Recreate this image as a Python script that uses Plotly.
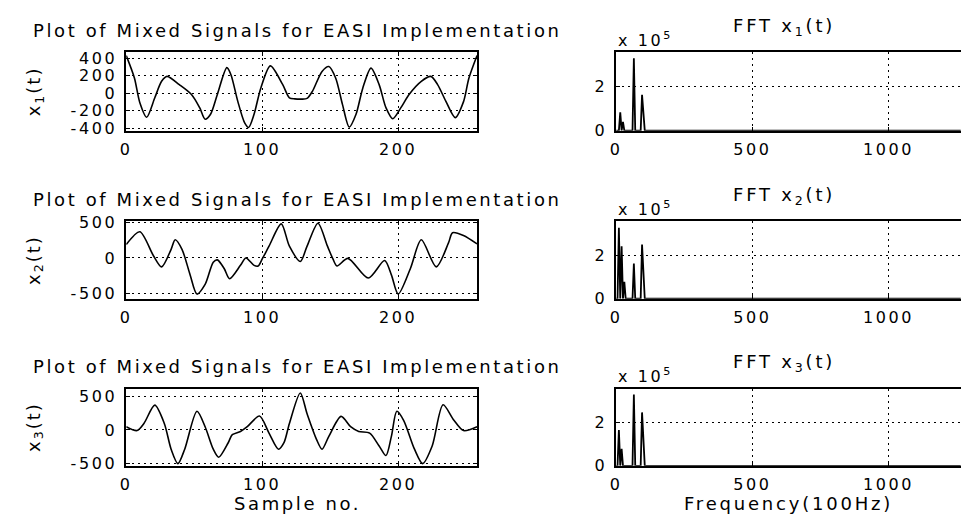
import numpy as np
import plotly.graph_objects as go

W, H = 961, 527

# ---- time-domain mixed signals (sample no., amplitude)
x1_n = [0, 6, 10, 15, 21, 26, 30, 39, 48, 54, 58, 62, 67, 74, 77, 82, 87, 90, 94, 99, 106, 115,
        120, 124, 129, 133, 137, 144, 149, 154, 159, 164, 169, 174, 180, 186, 191, 196, 202, 208,
        217, 224, 229, 235, 242, 248, 252, 258]
x1_v = [430, 174, -109, -275, -53, 136, 192, 98, -15, -166, -298, -241, -15, 292, 211, -91, -336,
        -392, -241, 60, 312, 100, -53, -65, -68, -60, 23, 249, 305, 174, -128, -388, -241, 60, 287,
        98, -166, -292, -166, -15, 136, 192, 98, -90, -280, -100, 170, 430]

x2_n = [0, 10, 20, 26, 33, 36, 41, 47, 52, 58, 64, 67, 72, 76, 84, 88, 94, 97, 100, 105, 114, 120,
        128, 133, 141, 148, 152, 155, 163, 178, 190, 195, 200, 209, 217, 228, 237, 240, 248, 258]
x2_v = [191, 373, 32, -127, 123, 259, 123, -241, -514, -377, -60, -27, -150, -295, -105, 0, -105,
        -114, -14, 168, 486, 168, -50, 168, 495, 168, -14, -114, -5, -286, -36, -241, -514, -150,
        259, -127, 214, 359, 320, 200]

x3_n = [0, 8, 13, 21, 28, 33, 38, 43, 52, 58, 64, 68, 75, 78, 84, 89, 98, 105, 112, 116, 120, 128,
        133, 140, 144, 149, 158, 165, 171, 179, 186, 191, 195, 199, 204, 212, 218, 225, 233, 241,
        248, 258]
x3_v = [48, -10, 97, 372, 97, -290, -507, -290, 280, 48, -290, -411, -193, -72, -24, 48, 208, -48,
        -290, -193, 97, 556, 242, -145, -290, -97, 203, 48, -24, -48, -242, -386, -97, 280, 145,
        -290, -507, -242, 377, 145, -10, 48]

# ---- FFT magnitudes: spike frequencies (100 Hz units) and heights
fft_bins = np.arange(0, 1270, 5)
f1_freq = [15, 25, 65, 95, 100]
f1_mag = [0.84e5, 0.40e5, 3.29e5, 1.63e5, 0.79e5]
f2_freq = [10, 20, 30, 65, 95, 100]
f2_mag = [3.30e5, 2.44e5, 0.79e5, 1.64e5, 2.52e5, 1.20e5]
f3_freq = [10, 20, 65, 95, 100]
f3_mag = [1.64e5, 0.78e5, 3.26e5, 2.44e5, 1.18e5]

left_ticks = [0, 100, 200]
right_ticks = [0, 500, 1000]
y_ticks = [[-400, -200, 0, 200, 400], [-500, 0, 500], [-500, 0, 500]]
fft_yticks = [0, 2e5]
fft_yticklabels = ["0", "2"]

signals = [(x1_n, x1_v), (x2_n, x2_v), (x3_n, x3_v)]
ffts = [(f1_freq, f1_mag), (f2_freq, f2_mag), (f3_freq, f3_mag)]
y_ranges = [[-429, 466], [-580, 520], [-540, 622]]
fft_tops = [3.56e5, 3.6e5, 3.53e5]

FONT = "DejaVu Sans"
FS_T = 18    # titles / labels
FS_K = 16    # tick labels


def wide(s, sp=2.6):
    return f'<span style="letter-spacing:{sp}px">{s}</span>'


# layout geometry in pixels
LX0, LX1 = 121, 474
RX0, RX1 = 614, 961
rows_px = [(46, 127), (221, 301), (394, 474)]

fig = go.Figure()
layout = dict(width=W, height=H, margin=dict(l=0, r=0, t=0, b=0),
              paper_bgcolor="white", plot_bgcolor="white", showlegend=False,
              font=dict(family=FONT, size=FS_T, color="black"))
annotations = []

dot = "2px,4px"
axis_common = dict(showline=True, linecolor="black", linewidth=1.5, ticks="inside", ticklen=4,
                   tickcolor="black", showgrid=True, gridcolor="black", griddash=dot, gridwidth=1,
                   zeroline=False, tickfont=dict(size=FS_K))
TSP = 2.6
for i in range(3):
    top, bot = rows_px[i]
    ydom = [1 - bot / H, 1 - top / H]
    li = 2 * i + 1
    ri = 2 * i + 2
    # left time plot
    n, v = signals[i]
    fig.add_trace(go.Scatter(x=n, y=v, mode="lines",
                             line=dict(color="black", width=1.6, shape="spline", smoothing=0.8),
                             xaxis=f"x{li}", yaxis=f"y{li}"))
    layout[f"xaxis{li}"] = dict(domain=[LX0 / W, LX1 / W], range=[0, 258], anchor=f"y{li}",
                                tickvals=left_ticks, ticktext=[wide(str(t), TSP) for t in left_ticks],
                                mirror="ticks", ticklabelstandoff=3, **axis_common)
    layout[f"yaxis{li}"] = dict(domain=ydom, range=y_ranges[i], anchor=f"x{li}",
                                tickvals=y_ticks[i], ticktext=[wide(str(t), TSP) for t in y_ticks[i]],
                                mirror="ticks", ticklabelstandoff=4, **axis_common)
    # right FFT plot
    freq, mag = ffts[i]
    spec = np.zeros(len(fft_bins))
    for f, m in zip(freq, mag):
        spec[int(np.argmin(np.abs(fft_bins - f)))] = m
    fig.add_trace(go.Scatter(x=fft_bins, y=spec, mode="lines", line=dict(color="black", width=1.8),
                             xaxis=f"x{ri}", yaxis=f"y{ri}"))
    layout[f"xaxis{ri}"] = dict(domain=[RX0 / W, RX1 / W], range=[0, 1266], anchor=f"y{ri}",
                                tickvals=right_ticks, ticktext=[wide(str(t), TSP) for t in right_ticks],
                                mirror=True, ticklabelstandoff=3, **axis_common)
    layout[f"yaxis{ri}"] = dict(domain=ydom, range=[0, fft_tops[i]], anchor=f"x{ri}",
                                tickvals=fft_yticks, ticktext=[wide(t, TSP) for t in fft_yticklabels],
                                mirror=False, ticklabelstandoff=4, **axis_common)
    # titles
    annotations.append(dict(text=wide("Plot of Mixed Signals for EASI Implementation", 2.6),
                            x=293 / W, y=1 - (top - 23) / H, xref="paper", yref="paper",
                            showarrow=False, xanchor="center", yanchor="middle",
                            font=dict(size=FS_T)))
    annotations.append(dict(text=wide(f"FFT x<sub>{i + 1}</sub>(t)", 2.8), x=783 / W,
                            y=1 - (top - 26) / H, xref="paper", yref="paper", showarrow=False,
                            xanchor="center", yanchor="middle", font=dict(size=FS_T)))
    annotations.append(dict(text=wide("x 10<sup>5</sup>", 2.6), x=RX0 / W, y=1 - (top - 13) / H,
                            xref="paper", yref="paper", showarrow=False, xanchor="left",
                            yanchor="middle", font=dict(size=FS_K)))
    annotations.append(dict(text=wide(f"x<sub>{i + 1}</sub>(t)", 2.0), x=29 / W,
                            y=1 - ((top + bot) / 2) / H, xref="paper", yref="paper",
                            showarrow=False, textangle=-90, xanchor="center", yanchor="middle",
                            font=dict(size=FS_T)))

annotations.append(dict(text=wide("Sample no.", 2.6), x=293 / W, y=1 - 513 / H, xref="paper",
                        yref="paper", showarrow=False, xanchor="center", yanchor="middle",
                        font=dict(size=FS_T)))
annotations.append(dict(text=wide("Frequency(100Hz)", 2.8), x=787 / W, y=1 - 513 / H,
                        xref="paper", yref="paper", showarrow=False, xanchor="center",
                        yanchor="middle", font=dict(size=FS_T)))
layout["annotations"] = annotations
fig.update_layout(**layout)
fig.write_html("out.html")
